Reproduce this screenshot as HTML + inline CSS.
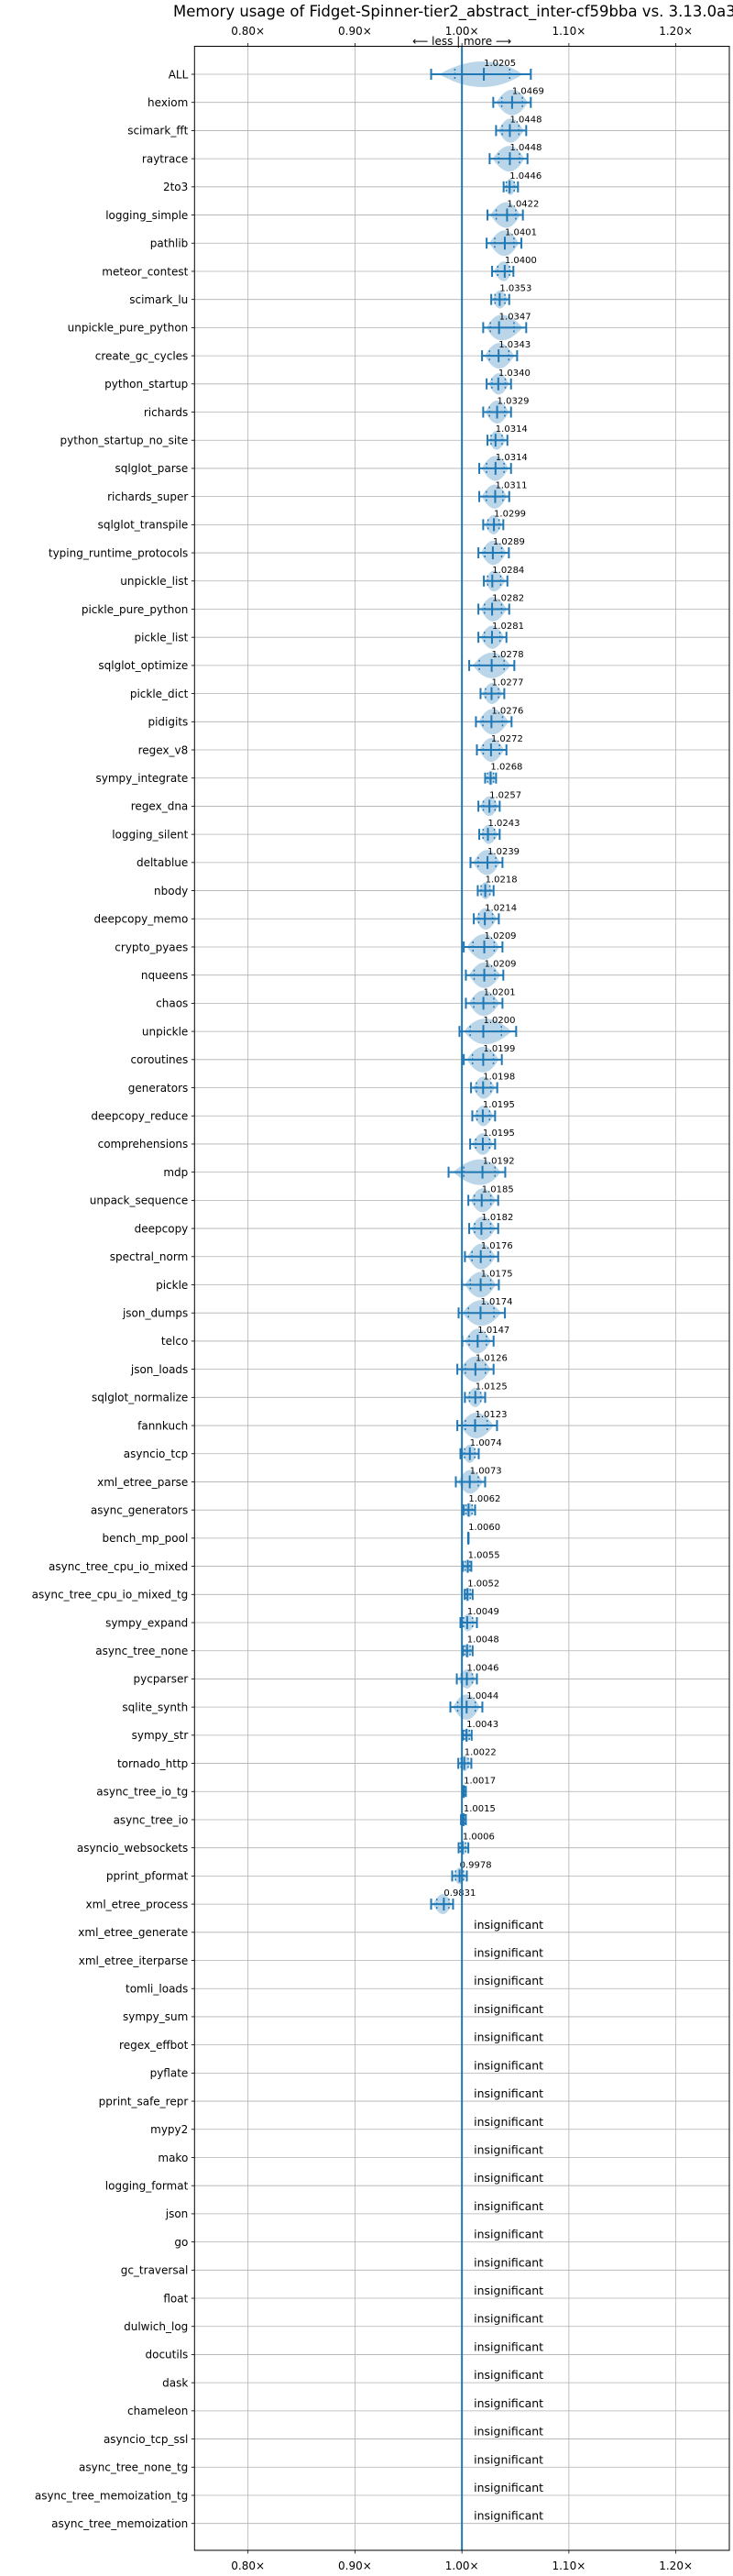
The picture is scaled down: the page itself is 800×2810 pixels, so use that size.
<!DOCTYPE html>
<html><head><meta charset="utf-8">
<style>
html,body{margin:0;padding:0;background:#fff;}
svg{display:block;font-family:"DejaVu Sans","Liberation Sans",sans-serif;}
</style></head>
<body>
<svg id="chart" width="800" height="2810" viewBox="0 0 800 2810" xmlns="http://www.w3.org/2000/svg">
<rect width="800" height="2810" fill="#fff"/>
<text x="189" y="18" font-size="16.5" fill="#000">Memory usage of Fidget-Spinner-tier2_abstract_inter-cf59bba vs. 3.13.0a3+</text>
<g id="grid"></g>
<g id="marks"></g>
<g id="axes"></g>
</svg>
<script>
const benchNames = ["ALL","hexiom","scimark_fft","raytrace","2to3","logging_simple","pathlib","meteor_contest","scimark_lu","unpickle_pure_python","create_gc_cycles","python_startup","richards","python_startup_no_site","sqlglot_parse","richards_super","sqlglot_transpile","typing_runtime_protocols","unpickle_list","pickle_pure_python","pickle_list","sqlglot_optimize","pickle_dict","pidigits","regex_v8","sympy_integrate","regex_dna","logging_silent","deltablue","nbody","deepcopy_memo","crypto_pyaes","nqueens","chaos","unpickle","coroutines","generators","deepcopy_reduce","comprehensions","mdp","unpack_sequence","deepcopy","spectral_norm","pickle","json_dumps","telco","json_loads","sqlglot_normalize","fannkuch","asyncio_tcp","xml_etree_parse","async_generators","bench_mp_pool","async_tree_cpu_io_mixed","async_tree_cpu_io_mixed_tg","sympy_expand","async_tree_none","pycparser","sqlite_synth","sympy_str","tornado_http","async_tree_io_tg","async_tree_io","asyncio_websockets","pprint_pformat","xml_etree_process"];
const medians = [1.0205,1.0469,1.0448,1.0448,1.0446,1.0422,1.0401,1.0400,1.0353,1.0347,1.0343,1.0340,1.0329,1.0314,1.0314,1.0311,1.0299,1.0289,1.0284,1.0282,1.0281,1.0278,1.0277,1.0276,1.0272,1.0268,1.0257,1.0243,1.0239,1.0218,1.0214,1.0209,1.0209,1.0201,1.0200,1.0199,1.0198,1.0195,1.0195,1.0192,1.0185,1.0182,1.0176,1.0175,1.0174,1.0147,1.0126,1.0125,1.0123,1.0074,1.0073,1.0062,1.0060,1.0055,1.0052,1.0049,1.0048,1.0046,1.0044,1.0043,1.0022,1.0017,1.0015,1.0006,0.9978,0.9831];
const lows = [0.9712,1.0293,1.0319,1.0259,1.0390,1.0239,1.0231,1.0282,1.0274,1.0199,1.0188,1.0231,1.0199,1.0239,1.0162,1.0162,1.0199,1.0154,1.0205,1.0154,1.0154,1.0068,1.0174,1.0131,1.0140,1.0217,1.0154,1.0162,1.0080,1.0148,1.0111,1.0017,1.0037,1.0037,0.9977,1.0017,1.0085,1.0097,1.0077,0.9875,1.0060,1.0068,1.0028,1.0000,0.9969,1.0003,0.9957,1.0028,0.9957,0.9986,0.9943,1.0017,1.0058,1.0009,1.0026,0.9986,1.0009,0.9952,0.9892,1.0009,0.9966,1.0009,0.9991,0.9969,0.9909,0.9712];
const highs = [1.0644,1.0644,1.0601,1.0613,1.0524,1.0570,1.0556,1.0481,1.0442,1.0601,1.0516,1.0459,1.0459,1.0425,1.0459,1.0442,1.0387,1.0439,1.0425,1.0442,1.0416,1.0490,1.0396,1.0464,1.0416,1.0319,1.0353,1.0353,1.0379,1.0296,1.0345,1.0379,1.0387,1.0379,1.0507,1.0373,1.0330,1.0310,1.0310,1.0405,1.0339,1.0339,1.0339,1.0345,1.0402,1.0296,1.0296,1.0217,1.0328,1.0157,1.0217,1.0123,1.0062,1.0088,1.0100,1.0140,1.0100,1.0140,1.0191,1.0091,1.0088,1.0037,1.0037,1.0060,1.0046,0.9917];
const insignificantNames = ["xml_etree_generate","xml_etree_iterparse","tomli_loads","sympy_sum","regex_effbot","pyflate","pprint_safe_repr","mypy2","mako","logging_format","json","go","gc_traversal","float","dulwich_log","docutils","dask","chameleon","asyncio_tcp_ssl","async_tree_none_tg","async_tree_memoization_tg","async_tree_memoization"];
const xTicks = [0.8,0.9,1.0,1.1,1.2];
const xTickLabels = ["0.80×","0.90×","1.00×","1.10×","1.20×"];

const NS="http://www.w3.org/2000/svg";
const L=212.3,R=796,T=50.5,B=2782;
const X0=0.75,X1=1.25;
const xs=v=>L+(v-X0)/(X1-X0)*(R-L);
const nRows=benchNames.length+insignificantNames.length;
const Y0=81,Y1=2752.7;
const ys=i=>Y0+i*(Y1-Y0)/(nRows-1);
function mk(tag,attrs,parent){const e=document.createElementNS(NS,tag);for(const k in attrs)e.setAttribute(k,attrs[k]);parent.appendChild(e);return e;}
const grid=document.getElementById('grid'),marks=document.getElementById('marks'),axes=document.getElementById('axes');
const blue="#1f77b4";

xTicks.forEach((t,k)=>{
  const g=mk('line',{x1:xs(t),x2:xs(t),y1:T,y2:B,stroke:"#b0b0b0","stroke-width":0.8},grid);
  
  
  [[T,T-3.5,38],[B,B+3.5,2803]].forEach(([a,b,ty])=>{
    mk('line',{x1:xs(t),x2:xs(t),y1:a,y2:b,stroke:"#000","stroke-width":0.8},axes);
    const tx=mk('text',{x:xs(t),y:ty,"font-size":12,"text-anchor":"middle",fill:"#000"},axes);
    tx.textContent=xTickLabels[k];
    
    
  });
});
const allNames=benchNames.concat(insignificantNames);
allNames.forEach((n,i)=>{
  const y=ys(i);
  const gl=mk('line',{x1:L,x2:R,y1:y,y2:y,stroke:"#b0b0b0","stroke-width":0.8},grid);
  
  
  mk('line',{x1:L-3.5,x2:L,y1:y,y2:y,stroke:"#000","stroke-width":0.8},axes);
  const t=mk('text',{x:L-7,y:y+4.3,"font-size":12,"text-anchor":"end",fill:"#000"},axes);
  t.textContent=n;
  
  
});
const lm=mk('text',{x:xs(1.0),y:49,"font-size":12,"text-anchor":"middle",fill:"#000"},axes);
lm.textContent="⟵ less | more ⟶";



benchNames.forEach((n,i)=>{
  const y=ys(i),lo=xs(lows[i]),hi=xs(highs[i]),md=xs(medians[i]);
  const g=mk('g',{},marks);
  
  
  const span=hi-lo;
  if(span>2){
    const a=lo+span*0.08,b=hi-span*0.08,h=Math.min(14,5+span*0.25);
    const d=`M${a},${y} Q${md},${y-2*h} ${b},${y} Q${md},${y+2*h} ${a},${y} Z`;
    mk('path',{d:d,fill:blue,"fill-opacity":0.3,stroke:"none"},g);
  }
  mk('line',{x1:lo,x2:hi,y1:y,y2:y,stroke:blue,"stroke-width":2},g);
  mk('line',{x1:lo,x2:lo,y1:y-6,y2:y+6,stroke:blue,"stroke-width":2},g);
  mk('line',{x1:hi,x2:hi,y1:y-6,y2:y+6,stroke:blue,"stroke-width":2},g);
  mk('line',{x1:md,x2:md,y1:y-7,y2:y+7,stroke:blue,"stroke-width":2},g);
  const q1=md-(md-lo)*0.55,q3=md+(hi-md)*0.55;
  [q1,q3].forEach(q=>mk('line',{x1:q,x2:q,y1:y-6,y2:y+6,stroke:blue,"stroke-width":1.5,"stroke-dasharray":"2,2.5"},g));
  const lab=mk('text',{x:md,y:y-9,"font-size":10,fill:"#000"},g);
  lab.textContent=medians[i].toFixed(4);
  
  
});
insignificantNames.forEach((n,k)=>{
  const y=ys(benchNames.length+k);
  const t=mk('text',{x:xs(1.0)+13,y:y-4,"font-size":12.5,fill:"#000"},marks);
  t.textContent="insignificant";
  
  
});
const bl=mk('line',{x1:xs(1.0),x2:xs(1.0),y1:T,y2:B,stroke:blue,"stroke-width":2},marks);


const fr=mk('rect',{x:L,y:T,width:R-L,height:B-T,fill:"none",stroke:"#000","stroke-width":1},axes);


</script>
</body></html>
